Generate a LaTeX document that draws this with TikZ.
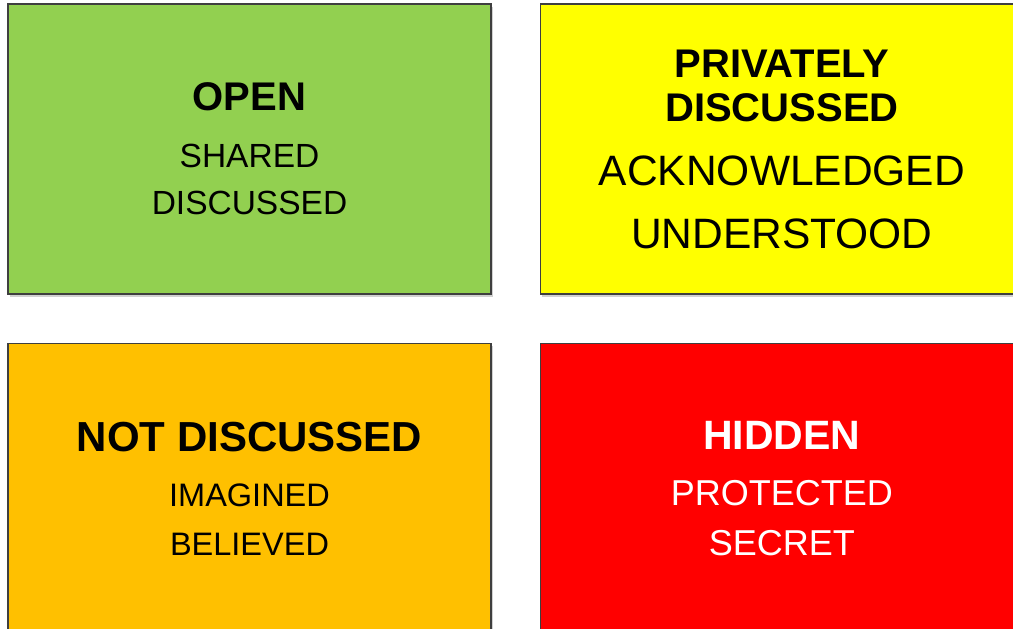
\documentclass[tikz,border=0pt]{standalone}
\usepackage{fontspec}
\setmainfont{Liberation Sans}
\usetikzlibrary{positioning,shadows}
\usepackage{xcolor}
\definecolor{opengreen}{HTML}{92D050}
\definecolor{privyellow}{HTML}{FFFF00}
\definecolor{notorange}{HTML}{FFC000}
\definecolor{hiddenred}{HTML}{FF0000}
\definecolor{edgegray}{HTML}{3F3F3F}

\begin{document}
\begin{tikzpicture}[
    % Define styles for the quadrants
    quad/.style={rectangle, draw=edgegray, line width=1.4pt, minimum width=483pt, minimum height=290pt, inner sep=0pt, align=center,
        drop shadow={shadow xshift=2pt, shadow yshift=-3pt, fill=black, opacity=0.18}},
    title/.style={font=\bfseries}
]

\useasboundingbox (0,0) rectangle (1013pt,-629pt);

% ==========================================
% Top row: Open / Privately discussed
% ==========================================
\node[quad, fill=opengreen, font=\fontsize{33.5}{47}\selectfont] (open) at (249.5pt,-149pt)
    {{\fontsize{40}{47}\selectfont\bfseries OPEN}\\[10pt] SHARED\\ DISCUSSED};
\node[quad, fill=privyellow, font=\fontsize{42.5}{63}\selectfont, right=48pt of open] (private)
    {{\fontsize{40}{47}\selectfont\bfseries PRIVATELY}\\[-19pt]{\fontsize{40}{47}\selectfont\bfseries DISCUSSED}\\[1pt] ACKNOWLEDGED\\ UNDERSTOOD};

% ==========================================
% Bottom row: Not discussed / Hidden
% ==========================================
\node[quad, fill=notorange, font=\fontsize{32.5}{49}\selectfont, below=48pt of open] (notdisc)
    {{\fontsize{42}{49}\selectfont\bfseries NOT DISCUSSED}\\[6pt] IMAGINED\\ BELIEVED};
\node[quad, fill=hiddenred, text=white, font=\fontsize{36}{50}\selectfont, below=48pt of private] (hidden)
    {{\fontsize{41}{50}\selectfont\bfseries HIDDEN}\\[6pt] PROTECTED\\ SECRET};

\end{tikzpicture}
\end{document}
